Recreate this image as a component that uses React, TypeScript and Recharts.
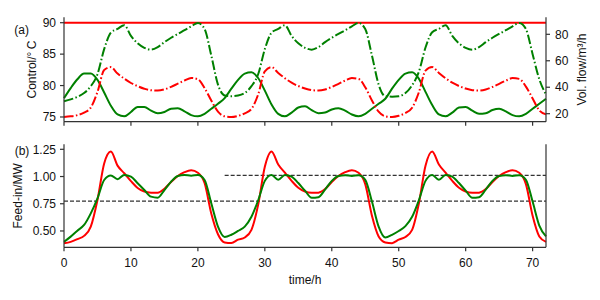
import { LineChart, Line, XAxis, YAxis, ReferenceLine } from 'recharts';

const FONT = '"Liberation Sans", Arial, sans-serif';
const AXIS = '#333';

// time grid (h)
const hours = Array.from({ length: 73 }, (_, i) => i);
const xTicks = [0, 10, 20, 30, 40, 50, 60, 70];
const tempTicks = [75, 80, 85, 90];
const flowTicks = [20, 40, 60, 80];
const feedTicks = [0.5, 0.75, 1.0, 1.25];

// (a) control temperature, °C
const refSupplyTemp = 90;
const optSupplyTemp = [
  78.0, 79.6, 81.0, 81.9, 81.9, 80.9, 78.9, 76.8, 75.4, 75.1, 75.8, 76.6, 76.6, 76.0, 75.6, 75.8, 76.3, 76.4, 75.9, 75.3, 75.1, 75.5, 76.3, 77.1,
  78.0, 79.5, 80.9, 81.9, 82.1, 81.2, 79.2, 77.0, 75.5, 75.1, 75.7, 76.5, 76.7, 76.1, 75.6, 75.7, 76.2, 76.4, 76.0, 75.4, 75.1, 75.5, 76.3, 77.1,
  77.9, 79.5, 80.9, 81.9, 82.1, 81.1, 79.0, 76.9, 75.4, 75.1, 75.7, 76.5, 76.6, 76.0, 75.5, 75.6, 76.1, 76.3, 75.9, 75.3, 75.1, 75.5, 76.3, 77.1, 77.9,
];

// (a) volume flow, m3/h
const refVolFlow = [
  17.5, 18.0, 18.9, 20.8, 24.6, 36.5, 53.0, 55.2, 50.3, 46.5, 43.2, 40.8, 38.9, 37.7, 37.5, 38.4, 40.3, 42.7, 45.1, 47.0, 46.0, 39.4, 30.0, 21.5,
  18.0, 17.5, 18.4, 20.3, 23.6, 34.5, 52.0, 55.2, 50.8, 46.8, 43.4, 40.9, 39.0, 37.8, 37.5, 38.3, 40.2, 42.6, 45.0, 46.9, 46.3, 40.0, 30.0, 21.5,
  18.0, 17.5, 18.4, 20.5, 24.5, 36.0, 52.5, 55.2, 50.8, 46.8, 43.4, 40.9, 39.0, 37.8, 37.5, 38.3, 40.2, 42.6, 45.0, 46.9, 46.3, 40.5, 31.5, 22.5, 19.5,
];
const optVolFlow = [
  29.4, 30.8, 32.7, 35.6, 40.8, 49.8, 68.8, 81.2, 84.1, 86.9, 78.8, 73.2, 69.8, 68.4, 70.3, 74.1, 77.4, 80.3, 83.1, 86.0, 88.6, 84.0, 64.0, 42.0,
  33.7, 33.2, 33.7, 35.6, 40.8, 49.8, 68.8, 81.2, 84.1, 86.9, 78.8, 73.2, 69.8, 68.4, 70.3, 74.1, 77.4, 80.3, 83.1, 86.0, 88.6, 84.0, 64.0, 42.0,
  33.2, 32.9, 33.2, 35.6, 41.5, 51.5, 70.0, 81.5, 84.1, 86.9, 78.8, 73.2, 69.8, 68.4, 70.3, 74.1, 77.4, 80.3, 83.1, 86.0, 88.6, 84.0, 65.0, 46.0, 34.5,
];

// (b) feed-in, MW
const refFeedIn = [
  0.387, 0.40, 0.425, 0.455, 0.54, 0.785, 1.12, 1.23, 1.10, 1.03, 0.958, 0.895, 0.862, 0.852, 0.852, 0.888, 0.95, 1.005, 1.04, 1.058, 1.035, 0.94, 0.66, 0.47,
  0.395, 0.39, 0.42, 0.44, 0.51, 0.74, 1.09, 1.23, 1.11, 1.035, 0.96, 0.897, 0.862, 0.85, 0.852, 0.885, 0.95, 1.005, 1.04, 1.058, 1.035, 0.93, 0.64, 0.45,
  0.395, 0.388, 0.42, 0.445, 0.51, 0.75, 1.10, 1.23, 1.11, 1.035, 0.96, 0.897, 0.862, 0.85, 0.852, 0.885, 0.95, 1.005, 1.04, 1.058, 1.035, 0.93, 0.64, 0.45, 0.40,
];
const optFeedIn = [
  0.40, 0.448, 0.503, 0.555, 0.662, 0.80, 0.968, 1.01, 0.975, 1.015, 1.0, 0.938, 0.876, 0.815, 0.805, 0.876, 0.953, 1.005, 1.014, 1.008, 1.014, 0.968, 0.754, 0.54,
  0.445, 0.465, 0.50, 0.54, 0.63, 0.78, 0.96, 1.015, 0.97, 1.015, 1.0, 0.94, 0.87, 0.805, 0.81, 0.88, 0.96, 1.005, 1.012, 1.005, 1.012, 0.97, 0.77, 0.54,
  0.44, 0.465, 0.50, 0.545, 0.63, 0.78, 0.96, 1.015, 0.97, 1.015, 1.0, 0.94, 0.87, 0.805, 0.81, 0.88, 0.96, 1.005, 1.012, 1.005, 1.012, 0.97, 0.77, 0.55, 0.45,
];
const feedTargetLow = 0.775;
const feedTargetHigh = 1.01;
const feedTargetHighFrom = 24;

const topData = hours.map((t, i) => ({
  t,
  optTemp: optSupplyTemp[i],
  refFlow: refVolFlow[i],
  optFlow: optVolFlow[i],
}));

const bottomData = hours.map((t, i) => ({
  t,
  refFeed: refFeedIn[i],
  optFeed: optFeedIn[i],
}));

const tickStyle = { fill: '#111', fontSize: 12, fontFamily: FONT };
const dashDot = '9.6 2.4 1.5 2.4';

function Titles() {
  const txt = { fontSize: 12, fontFamily: FONT, fill: '#111', textAnchor: 'middle' as const, dominantBaseline: 'central' as const };
  return (
    <svg width={600} height={300} style={{ position: 'absolute', left: 0, top: 0, pointerEvents: 'none' }}>
      <text x={21.7} y={30} {...txt}>(a)</text>
      <text x={22} y={151} {...txt}>(b)</text>
      <text x={31.7} y={69.5} transform="rotate(-90 31.7 69.5)" {...txt}>Control/°{'\u2009'}C</text>
      <text x={582} y={69.5} transform="rotate(-90 582 69.5)" {...txt}>Vol. flow/m³/h</text>
      <text x={18.3} y={195.8} transform="rotate(-90 18.3 195.8)" {...txt}>Feed-in/MW</text>
      <text x={305} y={280} {...txt}>time/h</text>
    </svg>
  );
}

export default function App() {
  return (
    <div style={{ position: 'absolute', left: 0, top: 0, width: 600, height: 300, background: '#fff' }}>
      <div style={{ position: 'absolute', left: 0, top: 0 }}>
        <LineChart width={600} height={130} data={topData} margin={{ top: 17.3, right: 0, bottom: 0, left: 0 }}>
          <XAxis dataKey="t" type="number" domain={[0, 72]} ticks={xTicks} tickFormatter={() => ''}
            height={8.3} tickSize={4} stroke={AXIS} strokeWidth={1.2} />
          <XAxis xAxisId="top" orientation="top" dataKey="t" type="number" domain={[0, 72]} height={0}
            tick={false} tickLine={false} stroke={AXIS} strokeWidth={1.2} />
          <YAxis yAxisId="temp" domain={[74.25, 90.86]} ticks={tempTicks} width={64} tickSize={4} tickMargin={4}
            tick={tickStyle} stroke={AXIS} strokeWidth={1.2} allowDataOverflow />
          <YAxis yAxisId="flow" orientation="right" domain={[13.95, 92.85]} ticks={flowTicks} width={54} tickSize={4}
            tickMargin={5} tick={tickStyle} stroke={AXIS} strokeWidth={1.2} allowDataOverflow />
          <ReferenceLine yAxisId="temp" y={refSupplyTemp} stroke="#ff0000" strokeWidth={2} />
          <Line yAxisId="temp" type="monotone" dataKey="optTemp" stroke="#008000" strokeWidth={2} dot={false} isAnimationActive={false} />
          <Line yAxisId="flow" type="monotone" dataKey="refFlow" stroke="#ff0000" strokeWidth={2} strokeDasharray={dashDot} dot={false} isAnimationActive={false} />
          <Line yAxisId="flow" type="monotone" dataKey="optFlow" stroke="#008000" strokeWidth={2} strokeDasharray={dashDot} dot={false} isAnimationActive={false} />
        </LineChart>
      </div>
      <div style={{ position: 'absolute', left: 0, top: 0 }}>
        <LineChart width={600} height={300} data={bottomData} margin={{ top: 144.3, right: 0, bottom: 0, left: 0 }}>
          <XAxis dataKey="t" type="number" domain={[0, 72]} ticks={xTicks} height={52.7} tickSize={4} tickMargin={7}
            tick={tickStyle} stroke={AXIS} strokeWidth={1.2} />
          <XAxis xAxisId="top" orientation="top" dataKey="t" type="number" domain={[0, 72]} height={0}
            tick={false} tickLine={false} stroke={AXIS} strokeWidth={1.2} />
          <YAxis domain={[0.35, 1.296]} ticks={feedTicks} width={64} tickSize={4} tickMargin={4}
            tickFormatter={(v: number) => v.toFixed(2)} tick={tickStyle} stroke={AXIS} strokeWidth={1.2} allowDataOverflow />
          <YAxis yAxisId="frame" orientation="right" domain={[0, 1]} width={54} tick={false} tickLine={false}
            stroke={AXIS} strokeWidth={1.2} />
          <ReferenceLine y={feedTargetLow} stroke="#333" strokeWidth={1.2} strokeDasharray="4 2" />
          <ReferenceLine segment={[{ x: feedTargetHighFrom, y: feedTargetHigh }, { x: 72, y: feedTargetHigh }]}
            stroke="#333" strokeWidth={1.2} strokeDasharray="4 2" />
          <Line type="monotone" dataKey="refFeed" stroke="#ff0000" strokeWidth={2} dot={false} isAnimationActive={false} />
          <Line type="monotone" dataKey="optFeed" stroke="#008000" strokeWidth={2} dot={false} isAnimationActive={false} />
        </LineChart>
      </div>
      <Titles />
    </div>
  );
}
